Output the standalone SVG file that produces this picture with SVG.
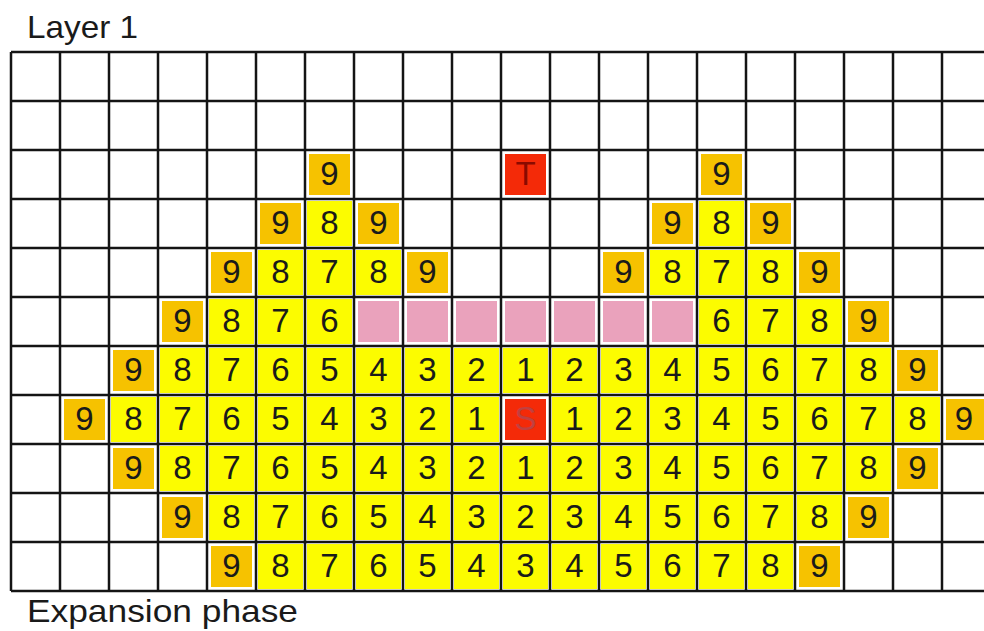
<svg xmlns="http://www.w3.org/2000/svg" width="984" height="631" viewBox="0 0 984 631">
<style>
.y{fill:#fcfc00}
.o{fill:#f6c200}
.p{fill:#eaa2bc}
.r{fill:#f42a08}
text{font-family:"Liberation Sans",Arial,sans-serif}
.d{font-size:33px;fill:#1a1a1a;text-anchor:middle}
.t{font-size:33px;fill:#8a0a00;text-anchor:middle}
.s{font-size:33px;fill:#c04040;text-anchor:middle}
.lbl{font-size:32px;fill:#1a1a1a}
</style>
<rect x="0" y="0" width="984" height="631" fill="#ffffff"/>
<text class="lbl" x="27" y="38" textLength="111" lengthAdjust="spacingAndGlyphs">Layer 1</text>
<text class="lbl" x="27" y="622" textLength="271" lengthAdjust="spacingAndGlyphs">Expansion phase</text>
<g id="cells">
<!-- row 2 -->
<g id="r2c6"><rect class="o" x="309" y="154" width="41" height="41"/><text class="d" x="329.5" y="185">9</text></g>
<g id="r2c10"><rect class="r" x="505" y="154" width="41" height="41"/><text class="t" x="525.5" y="185">T</text></g>
<g id="r2c14"><rect class="o" x="701" y="154" width="41" height="41"/><text class="d" x="721.5" y="185">9</text></g>
<!-- row 3 -->
<g id="r3c5"><rect class="o" x="260" y="203" width="41" height="41"/><text class="d" x="280.5" y="234">9</text></g>
<g id="r3c6"><rect class="y" x="307" y="201" width="45" height="45"/><text class="d" x="329.5" y="234">8</text></g>
<g id="r3c7"><rect class="o" x="358" y="203" width="41" height="41"/><text class="d" x="378.5" y="234">9</text></g>
<g id="r3c13"><rect class="o" x="652" y="203" width="41" height="41"/><text class="d" x="672.5" y="234">9</text></g>
<g id="r3c14"><rect class="y" x="699" y="201" width="45" height="45"/><text class="d" x="721.5" y="234">8</text></g>
<g id="r3c15"><rect class="o" x="750" y="203" width="41" height="41"/><text class="d" x="770.5" y="234">9</text></g>
<!-- row 4 -->
<g id="r4c4"><rect class="o" x="211" y="252" width="41" height="41"/><text class="d" x="231.5" y="283">9</text></g>
<g id="r4c5"><rect class="y" x="258" y="250" width="45" height="45"/><text class="d" x="280.5" y="283">8</text></g>
<g id="r4c6"><rect class="y" x="307" y="250" width="45" height="45"/><text class="d" x="329.5" y="283">7</text></g>
<g id="r4c7"><rect class="y" x="356" y="250" width="45" height="45"/><text class="d" x="378.5" y="283">8</text></g>
<g id="r4c8"><rect class="o" x="407" y="252" width="41" height="41"/><text class="d" x="427.5" y="283">9</text></g>
<g id="r4c12"><rect class="o" x="603" y="252" width="41" height="41"/><text class="d" x="623.5" y="283">9</text></g>
<g id="r4c13"><rect class="y" x="650" y="250" width="45" height="45"/><text class="d" x="672.5" y="283">8</text></g>
<g id="r4c14"><rect class="y" x="699" y="250" width="45" height="45"/><text class="d" x="721.5" y="283">7</text></g>
<g id="r4c15"><rect class="y" x="748" y="250" width="45" height="45"/><text class="d" x="770.5" y="283">8</text></g>
<g id="r4c16"><rect class="o" x="799" y="252" width="41" height="41"/><text class="d" x="819.5" y="283">9</text></g>
<!-- row 5 -->
<g id="r5c3"><rect class="o" x="162" y="301" width="41" height="41"/><text class="d" x="182.5" y="332">9</text></g>
<g id="r5c4"><rect class="y" x="209" y="299" width="45" height="45"/><text class="d" x="231.5" y="332">8</text></g>
<g id="r5c5"><rect class="y" x="258" y="299" width="45" height="45"/><text class="d" x="280.5" y="332">7</text></g>
<g id="r5c6"><rect class="y" x="307" y="299" width="45" height="45"/><text class="d" x="329.5" y="332">6</text></g>
<g id="r5c7"><rect class="p" x="358" y="301" width="41" height="41"/></g>
<g id="r5c8"><rect class="p" x="407" y="301" width="41" height="41"/></g>
<g id="r5c9"><rect class="p" x="456" y="301" width="41" height="41"/></g>
<g id="r5c10"><rect class="p" x="505" y="301" width="41" height="41"/></g>
<g id="r5c11"><rect class="p" x="554" y="301" width="41" height="41"/></g>
<g id="r5c12"><rect class="p" x="603" y="301" width="41" height="41"/></g>
<g id="r5c13"><rect class="p" x="652" y="301" width="41" height="41"/></g>
<g id="r5c14"><rect class="y" x="699" y="299" width="45" height="45"/><text class="d" x="721.5" y="332">6</text></g>
<g id="r5c15"><rect class="y" x="748" y="299" width="45" height="45"/><text class="d" x="770.5" y="332">7</text></g>
<g id="r5c16"><rect class="y" x="797" y="299" width="45" height="45"/><text class="d" x="819.5" y="332">8</text></g>
<g id="r5c17"><rect class="o" x="848" y="301" width="41" height="41"/><text class="d" x="868.5" y="332">9</text></g>
<!-- row 6 -->
<g id="r6c2"><rect class="o" x="113" y="350" width="41" height="41"/><text class="d" x="133.5" y="381">9</text></g>
<g id="r6c3"><rect class="y" x="160" y="348" width="45" height="45"/><text class="d" x="182.5" y="381">8</text></g>
<g id="r6c4"><rect class="y" x="209" y="348" width="45" height="45"/><text class="d" x="231.5" y="381">7</text></g>
<g id="r6c5"><rect class="y" x="258" y="348" width="45" height="45"/><text class="d" x="280.5" y="381">6</text></g>
<g id="r6c6"><rect class="y" x="307" y="348" width="45" height="45"/><text class="d" x="329.5" y="381">5</text></g>
<g id="r6c7"><rect class="y" x="356" y="348" width="45" height="45"/><text class="d" x="378.5" y="381">4</text></g>
<g id="r6c8"><rect class="y" x="405" y="348" width="45" height="45"/><text class="d" x="427.5" y="381">3</text></g>
<g id="r6c9"><rect class="y" x="454" y="348" width="45" height="45"/><text class="d" x="476.5" y="381">2</text></g>
<g id="r6c10"><rect class="y" x="503" y="348" width="45" height="45"/><text class="d" x="525.5" y="381">1</text></g>
<g id="r6c11"><rect class="y" x="552" y="348" width="45" height="45"/><text class="d" x="574.5" y="381">2</text></g>
<g id="r6c12"><rect class="y" x="601" y="348" width="45" height="45"/><text class="d" x="623.5" y="381">3</text></g>
<g id="r6c13"><rect class="y" x="650" y="348" width="45" height="45"/><text class="d" x="672.5" y="381">4</text></g>
<g id="r6c14"><rect class="y" x="699" y="348" width="45" height="45"/><text class="d" x="721.5" y="381">5</text></g>
<g id="r6c15"><rect class="y" x="748" y="348" width="45" height="45"/><text class="d" x="770.5" y="381">6</text></g>
<g id="r6c16"><rect class="y" x="797" y="348" width="45" height="45"/><text class="d" x="819.5" y="381">7</text></g>
<g id="r6c17"><rect class="y" x="846" y="348" width="45" height="45"/><text class="d" x="868.5" y="381">8</text></g>
<g id="r6c18"><rect class="o" x="897" y="350" width="41" height="41"/><text class="d" x="917.5" y="381">9</text></g>
<!-- row 7 -->
<g id="r7c1"><rect class="o" x="64" y="399" width="41" height="41"/><text class="d" x="84.5" y="430">9</text></g>
<g id="r7c2"><rect class="y" x="111" y="397" width="45" height="45"/><text class="d" x="133.5" y="430">8</text></g>
<g id="r7c3"><rect class="y" x="160" y="397" width="45" height="45"/><text class="d" x="182.5" y="430">7</text></g>
<g id="r7c4"><rect class="y" x="209" y="397" width="45" height="45"/><text class="d" x="231.5" y="430">6</text></g>
<g id="r7c5"><rect class="y" x="258" y="397" width="45" height="45"/><text class="d" x="280.5" y="430">5</text></g>
<g id="r7c6"><rect class="y" x="307" y="397" width="45" height="45"/><text class="d" x="329.5" y="430">4</text></g>
<g id="r7c7"><rect class="y" x="356" y="397" width="45" height="45"/><text class="d" x="378.5" y="430">3</text></g>
<g id="r7c8"><rect class="y" x="405" y="397" width="45" height="45"/><text class="d" x="427.5" y="430">2</text></g>
<g id="r7c9"><rect class="y" x="454" y="397" width="45" height="45"/><text class="d" x="476.5" y="430">1</text></g>
<g id="r7c10"><rect class="r" x="505" y="399" width="41" height="41"/><text class="s" x="525.5" y="430">S</text></g>
<g id="r7c11"><rect class="y" x="552" y="397" width="45" height="45"/><text class="d" x="574.5" y="430">1</text></g>
<g id="r7c12"><rect class="y" x="601" y="397" width="45" height="45"/><text class="d" x="623.5" y="430">2</text></g>
<g id="r7c13"><rect class="y" x="650" y="397" width="45" height="45"/><text class="d" x="672.5" y="430">3</text></g>
<g id="r7c14"><rect class="y" x="699" y="397" width="45" height="45"/><text class="d" x="721.5" y="430">4</text></g>
<g id="r7c15"><rect class="y" x="748" y="397" width="45" height="45"/><text class="d" x="770.5" y="430">5</text></g>
<g id="r7c16"><rect class="y" x="797" y="397" width="45" height="45"/><text class="d" x="819.5" y="430">6</text></g>
<g id="r7c17"><rect class="y" x="846" y="397" width="45" height="45"/><text class="d" x="868.5" y="430">7</text></g>
<g id="r7c18"><rect class="y" x="895" y="397" width="45" height="45"/><text class="d" x="917.5" y="430">8</text></g>
<g id="r7c19"><rect class="o" x="946" y="399" width="41" height="41"/><text class="d" x="964" y="430">9</text></g>
<!-- row 8 -->
<g id="r8c2"><rect class="o" x="113" y="448" width="41" height="41"/><text class="d" x="133.5" y="479">9</text></g>
<g id="r8c3"><rect class="y" x="160" y="446" width="45" height="45"/><text class="d" x="182.5" y="479">8</text></g>
<g id="r8c4"><rect class="y" x="209" y="446" width="45" height="45"/><text class="d" x="231.5" y="479">7</text></g>
<g id="r8c5"><rect class="y" x="258" y="446" width="45" height="45"/><text class="d" x="280.5" y="479">6</text></g>
<g id="r8c6"><rect class="y" x="307" y="446" width="45" height="45"/><text class="d" x="329.5" y="479">5</text></g>
<g id="r8c7"><rect class="y" x="356" y="446" width="45" height="45"/><text class="d" x="378.5" y="479">4</text></g>
<g id="r8c8"><rect class="y" x="405" y="446" width="45" height="45"/><text class="d" x="427.5" y="479">3</text></g>
<g id="r8c9"><rect class="y" x="454" y="446" width="45" height="45"/><text class="d" x="476.5" y="479">2</text></g>
<g id="r8c10"><rect class="y" x="503" y="446" width="45" height="45"/><text class="d" x="525.5" y="479">1</text></g>
<g id="r8c11"><rect class="y" x="552" y="446" width="45" height="45"/><text class="d" x="574.5" y="479">2</text></g>
<g id="r8c12"><rect class="y" x="601" y="446" width="45" height="45"/><text class="d" x="623.5" y="479">3</text></g>
<g id="r8c13"><rect class="y" x="650" y="446" width="45" height="45"/><text class="d" x="672.5" y="479">4</text></g>
<g id="r8c14"><rect class="y" x="699" y="446" width="45" height="45"/><text class="d" x="721.5" y="479">5</text></g>
<g id="r8c15"><rect class="y" x="748" y="446" width="45" height="45"/><text class="d" x="770.5" y="479">6</text></g>
<g id="r8c16"><rect class="y" x="797" y="446" width="45" height="45"/><text class="d" x="819.5" y="479">7</text></g>
<g id="r8c17"><rect class="y" x="846" y="446" width="45" height="45"/><text class="d" x="868.5" y="479">8</text></g>
<g id="r8c18"><rect class="o" x="897" y="448" width="41" height="41"/><text class="d" x="917.5" y="479">9</text></g>
<!-- row 9 -->
<g id="r9c3"><rect class="o" x="162" y="497" width="41" height="41"/><text class="d" x="182.5" y="528">9</text></g>
<g id="r9c4"><rect class="y" x="209" y="495" width="45" height="45"/><text class="d" x="231.5" y="528">8</text></g>
<g id="r9c5"><rect class="y" x="258" y="495" width="45" height="45"/><text class="d" x="280.5" y="528">7</text></g>
<g id="r9c6"><rect class="y" x="307" y="495" width="45" height="45"/><text class="d" x="329.5" y="528">6</text></g>
<g id="r9c7"><rect class="y" x="356" y="495" width="45" height="45"/><text class="d" x="378.5" y="528">5</text></g>
<g id="r9c8"><rect class="y" x="405" y="495" width="45" height="45"/><text class="d" x="427.5" y="528">4</text></g>
<g id="r9c9"><rect class="y" x="454" y="495" width="45" height="45"/><text class="d" x="476.5" y="528">3</text></g>
<g id="r9c10"><rect class="y" x="503" y="495" width="45" height="45"/><text class="d" x="525.5" y="528">2</text></g>
<g id="r9c11"><rect class="y" x="552" y="495" width="45" height="45"/><text class="d" x="574.5" y="528">3</text></g>
<g id="r9c12"><rect class="y" x="601" y="495" width="45" height="45"/><text class="d" x="623.5" y="528">4</text></g>
<g id="r9c13"><rect class="y" x="650" y="495" width="45" height="45"/><text class="d" x="672.5" y="528">5</text></g>
<g id="r9c14"><rect class="y" x="699" y="495" width="45" height="45"/><text class="d" x="721.5" y="528">6</text></g>
<g id="r9c15"><rect class="y" x="748" y="495" width="45" height="45"/><text class="d" x="770.5" y="528">7</text></g>
<g id="r9c16"><rect class="y" x="797" y="495" width="45" height="45"/><text class="d" x="819.5" y="528">8</text></g>
<g id="r9c17"><rect class="o" x="848" y="497" width="41" height="41"/><text class="d" x="868.5" y="528">9</text></g>
<!-- row 10 -->
<g id="r10c4"><rect class="o" x="211" y="546" width="41" height="41"/><text class="d" x="231.5" y="577">9</text></g>
<g id="r10c5"><rect class="y" x="258" y="544" width="45" height="45"/><text class="d" x="280.5" y="577">8</text></g>
<g id="r10c6"><rect class="y" x="307" y="544" width="45" height="45"/><text class="d" x="329.5" y="577">7</text></g>
<g id="r10c7"><rect class="y" x="356" y="544" width="45" height="45"/><text class="d" x="378.5" y="577">6</text></g>
<g id="r10c8"><rect class="y" x="405" y="544" width="45" height="45"/><text class="d" x="427.5" y="577">5</text></g>
<g id="r10c9"><rect class="y" x="454" y="544" width="45" height="45"/><text class="d" x="476.5" y="577">4</text></g>
<g id="r10c10"><rect class="y" x="503" y="544" width="45" height="45"/><text class="d" x="525.5" y="577">3</text></g>
<g id="r10c11"><rect class="y" x="552" y="544" width="45" height="45"/><text class="d" x="574.5" y="577">4</text></g>
<g id="r10c12"><rect class="y" x="601" y="544" width="45" height="45"/><text class="d" x="623.5" y="577">5</text></g>
<g id="r10c13"><rect class="y" x="650" y="544" width="45" height="45"/><text class="d" x="672.5" y="577">6</text></g>
<g id="r10c14"><rect class="y" x="699" y="544" width="45" height="45"/><text class="d" x="721.5" y="577">7</text></g>
<g id="r10c15"><rect class="y" x="748" y="544" width="45" height="45"/><text class="d" x="770.5" y="577">8</text></g>
<g id="r10c16"><rect class="o" x="799" y="546" width="41" height="41"/><text class="d" x="819.5" y="577">9</text></g>
</g>
<g id="grid" stroke="#141414" stroke-width="2.5" fill="none">
<path d="M11 52H984M11 101H984M11 150H984M11 199H984M11 248H984M11 297H984M11 346H984M11 395H984M11 444H984M11 493H984M11 542H984M11 591H984"/>
<path d="M11 52V591M60 52V591M109 52V591M158 52V591M207 52V591M256 52V591M305 52V591M354 52V591M403 52V591M452 52V591M501 52V591M550 52V591M599 52V591M648 52V591M697 52V591M746 52V591M795 52V591M844 52V591M893 52V591M942 52V591"/>
</g>
</svg>
